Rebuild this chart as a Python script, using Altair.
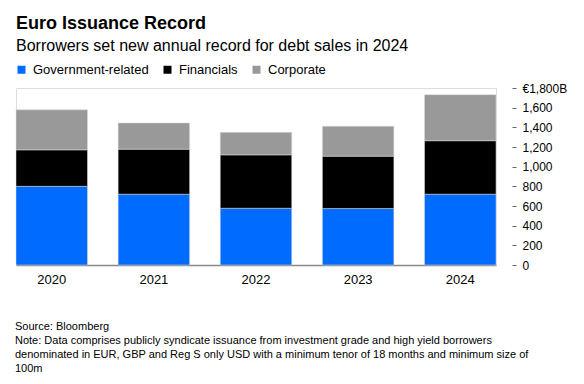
import altair as alt
import pandas as pd

years = ["2020", "2021", "2022", "2023", "2024"]
government = [800, 720, 577, 574, 720]
financials = [371, 458, 543, 533, 544]
corporate = [407, 267, 229, 304, 468]
series = ["Government-related", "Financials", "Corporate"]
colors = ["#006BFF", "#000000", "#999999"]
y_ticks = [0, 200, 400, 600, 800, 1000, 1200, 1400, 1600, 1800]
footer_lines = [
    "Source: Bloomberg",
    "Note: Data comprises publicly syndicate issuance from investment grade and high yield borrowers",
    "denominated in EUR, GBP and Reg S only USD with a minimum tenor of 18 months and minimum size of",
    "100m",
]

rows = []
for i, y in enumerate(years):
    for k, (name, vals) in enumerate(zip(series, [government, financials, corporate])):
        rows.append({"year": y, "series": name, "value": vals[i], "order": k})
df = pd.DataFrame(rows)

FONT = "Liberation Sans"

bars = alt.Chart(df).mark_bar(stroke="#dddddd", strokeWidth=0.5).encode(
    x=alt.X("year:N", sort=years,
            scale=alt.Scale(paddingInner=0.3, paddingOuter=0),
            axis=alt.Axis(title=None, labelAngle=0, ticks=False, domainColor="#888888",
                          domainWidth=1.5, labelFontSize=13, labelPadding=8,
                          labelColor="#000000", labelFont=FONT)),
    y=alt.Y("value:Q", stack="zero",
            scale=alt.Scale(domain=[0, 1800], nice=False),
            axis=alt.Axis(title=None, orient="right", values=y_ticks, grid=False, domain=False,
                          tickSize=4, tickColor="#666666", offset=16, labelPadding=6,
                          labelFontSize=12, labelColor="#000000", labelFont=FONT,
                          labelExpr="datum.value == 1800 ? '€1,800B' : format(datum.value, ',')")),
    color=alt.Color("series:N", sort=series,
                    scale=alt.Scale(domain=series, range=colors),
                    legend=alt.Legend(title=None, orient="none", legendX=-1, legendY=-25,
                                      direction="horizontal", symbolType="square",
                                      symbolSize=64, symbolStrokeWidth=0, labelFontSize=13,
                                      labelFont=FONT, labelColor="#000000", labelOffset=5,
                                      columnPadding=12, symbolOpacity=1)),
    order=alt.Order("order:Q"),
)

foot_df = pd.DataFrame({"text": footer_lines, "line": list(range(len(footer_lines)))})
footer = alt.Chart(foot_df).transform_calculate(
    ypix="242 + datum.line * 14"
).mark_text(
    align="left", baseline="alphabetic", fontSize=11, font=FONT, color="#000000"
).encode(
    text="text:N",
    x=alt.value(-1),
    y=alt.Y("ypix:Q", scale=None),
)

chart = alt.layer(bars, footer).properties(
    width=480,
    height=177,
    padding={"left": 8, "top": 80, "right": 80, "bottom": 111},
    autosize=alt.AutoSizeParams(type="none"),
    title=alt.Title(
        "Euro Issuance Record",
        subtitle="Borrowers set new annual record for debt sales in 2024",
        anchor="start", frame="group", orient="top", offset=9,
        font=FONT, fontSize=18, fontWeight="bold", color="#000000",
        subtitleFont=FONT, subtitleFontSize=16, subtitleColor="#000000",
        subtitlePadding=5, dx=0,
    ),
).configure_view(stroke=None).configure(background="white")

chart.save("out.html", embed_options={"renderer": "svg", "actions": False})
